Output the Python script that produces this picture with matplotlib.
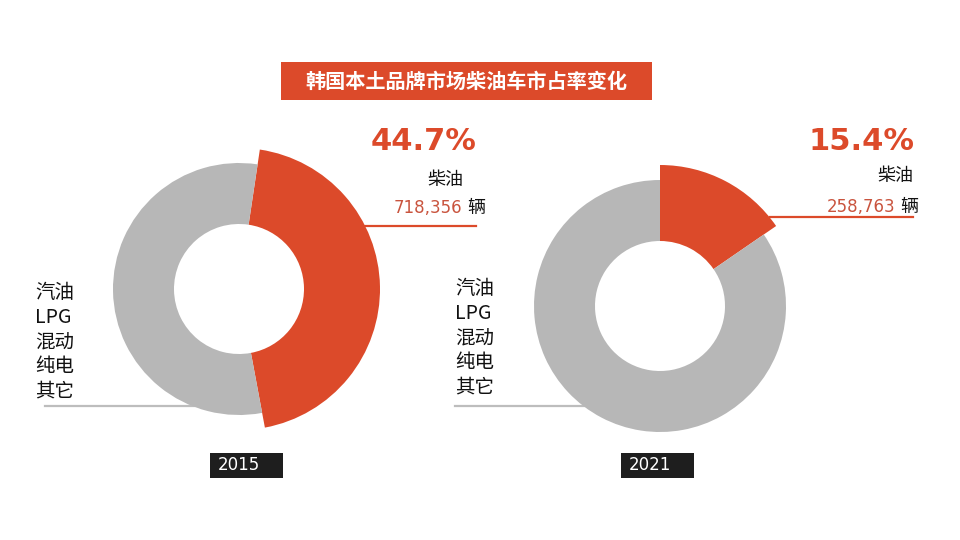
import matplotlib.pyplot as plt
from matplotlib.patches import Rectangle

plt.rcParams["font.family"] = ["Noto Sans CJK SC", "DejaVu Sans"]

# data
title = "韩国本土品牌市场柴油车市占率变化"
years = ["2015", "2021"]
diesel_share = [44.7, 15.4]
diesel_units = ["718,356", "258,763"]
diesel_label = "柴油"
unit_label = "辆"
other_labels = ["汽油", "LPG", "混动", "纯电", "其它"]

RED = "#dc4a2a"
GRAY = "#b7b7b7"
NUM_RED = "#c9543e"
DARK = "#1e1e1e"

H = 540  # pixel canvas height, y grows upward here


def py(y):
    """Convert a top-down pixel y to axes y."""
    return H - y


fig = plt.figure(figsize=(9.6, 5.4), dpi=100)
ax = fig.add_axes([0, 0, 1, 1])

# layout per donut (pixel based)
centers = [(239, py(289)), (660, py(306))]
start_angles = [81.5, 90]
pct_pos = [(476, py(141)), (914, py(142))]
lbl_pos = [(463, py(180)), (913, py(176))]
unit_pos = [(485, py(208)), (918, py(207))]
red_line = [(360, 476, py(226)), (770, 913, py(217))]
gray_line = [(45, 200, py(406)), (455, 590, py(406))]
other_pos = [(35, py(293)), (455, py(289))]
year_box = [(210, 283), (621, 694)]

for i in range(2):
    cx, cy = centers[i]
    d = diesel_share[i]
    wedges, _ = ax.pie(
        [d, 100 - d],
        colors=[RED, GRAY],
        startangle=start_angles[i],
        counterclock=False,
        center=(cx, cy),
        radius=126,
        wedgeprops=dict(width=61, linewidth=0),
    )
    # diesel wedge sticks out a bit
    wedges[0].set_radius(141)
    wedges[0].set_width(76)
    for w in wedges:
        w.set_zorder(3)

    # leader lines
    x0, x1, yl = red_line[i]
    ax.plot([x0, x1], [yl, yl], color=RED, lw=1.6, zorder=2)
    x0, x1, yl = gray_line[i]
    ax.plot([x0, x1], [yl, yl], color="#bdbdbd", lw=1.6, zorder=2)

    # diesel labels
    x, y = pct_pos[i]
    ax.text(x, y, f"{d}%", color=RED, fontsize=22, fontweight="bold",
            family=["DejaVu Sans"], ha="right", va="center")
    x, y = lbl_pos[i]
    ax.text(x, y, diesel_label, color="#111111", fontsize=13,
            ha="right", va="center")
    x, y = unit_pos[i]
    ax.text(x, y, unit_label, color="#111111", fontsize=13,
            ha="right", va="center")
    ax.text(x - 23, y, diesel_units[i], color=NUM_RED, fontsize=12,
            family=["DejaVu Sans"], ha="right", va="center")

    # other fuel labels
    x, y = other_pos[i]
    for k, lab in enumerate(other_labels):
        ax.text(x, y - k * 24.5, lab, color="#111111", fontsize=14,
                ha="left", va="center")

    # year tag
    bx0, bx1 = year_box[i]
    ax.add_patch(Rectangle((bx0, py(478)), bx1 - bx0, 25, color=DARK, lw=0))
    ax.text(bx0 + 8, py(465.5), years[i], color="white", fontsize=12,
            family=["DejaVu Sans"], ha="left", va="center")

# title banner
ax.add_patch(Rectangle((281, py(100)), 371, 38, color=RED, lw=0))
ax.text(466, py(81), title, color="white", fontsize=14.5, fontweight="bold",
        ha="center", va="center")

ax.set_xlim(0, 960)
ax.set_ylim(0, 540)
ax.set_aspect("equal")
ax.axis("off")

fig.savefig("out.png", dpi=100)
